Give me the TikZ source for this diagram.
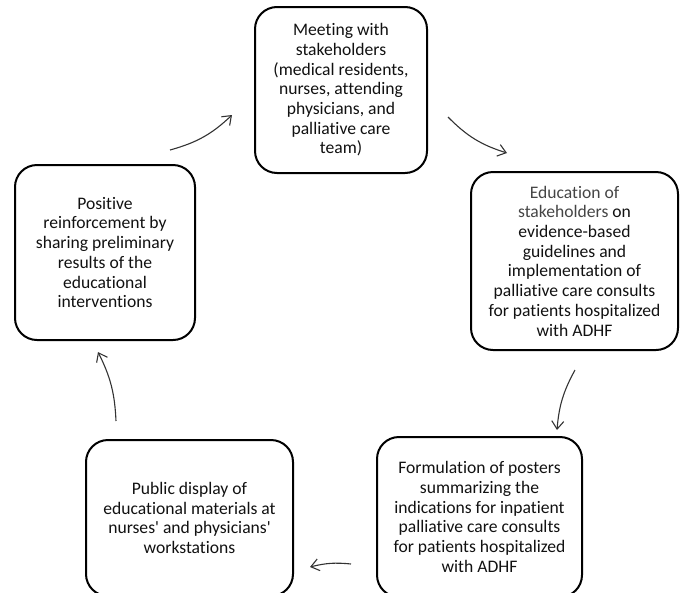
\documentclass[tikz,border=0pt]{standalone}
\usepackage{fontspec}
\setmainfont{Carlito}[Ligatures=NoCommon]
\usetikzlibrary{arrows.meta}
\definecolor{ink}{HTML}{111111}
\definecolor{softink}{HTML}{454545}
\definecolor{arrowink}{HTML}{333333}
\begin{document}
\begin{tikzpicture}[x=1pt,y=-1pt,
  stagebox/.style={draw=black, line width=2pt, rounded corners=22pt,
    align=center, text=ink, inner sep=0pt,
    font=\fontsize{17.6}{19.7}\selectfont},
  flow/.style={draw=arrowink, line width=1.1pt,
    -{Straight Barb[length=8pt,width=12pt,line width=1.1pt]}}]
\useasboundingbox (0,0) rectangle (682,592);

% the five stages of the cycle
\node[stagebox, minimum width=172pt, minimum height=166pt] (b1) at (341,90)
  {Meeting with\\ stakeholders\\ (medical residents,\\ nurses, attending\\ physicians, and\\ palliative care\\ team)};
\node[stagebox, minimum width=207pt, minimum height=178pt] (b2) at (574.5,261)
  {\textcolor{softink}{Education of}\\ \textcolor{softink}{stakeholders} on\\ evidence-based\\ guidelines and\\ implementation of\\ palliative care consults\\ for patients hospitalized\\ with ADHF};
\node[stagebox, minimum width=205pt, minimum height=160pt] (b3) at (479.5,517)
  {Formulation of posters\\ summarizing the\\ indications for inpatient\\ palliative care consults\\ for patients hospitalized\\ with ADHF};
\node[stagebox, minimum width=207pt, minimum height=156pt] (b4) at (189.5,518)
  {Public display of\\ educational materials at\\ nurses\textquotesingle{} and physicians\textquotesingle\\ workstations};
\node[stagebox, minimum width=180pt, minimum height=175pt] (b5) at (105,252.5)
  {Positive\\ reinforcement by\\ sharing preliminary\\ results of the\\ educational\\ interventions};

% end points of the arrows between stages
\coordinate (a1s) at (170,150);  \coordinate (a1e) at (232,115);
\coordinate (a2s) at (448,117);  \coordinate (a2e) at (507,153);
\coordinate (a3s) at (575,370);  \coordinate (a3e) at (557,430);
\coordinate (a4s) at (351,564);  \coordinate (a4e) at (310,567);
\coordinate (a5s) at (116,421);  \coordinate (a5e) at (98,352);

\draw[flow] (a1s) to[bend right=14] (a1e);
\draw[flow] (a2s) to[bend right=14] (a2e);
\draw[flow] (a3s) to[bend right=12] (a3e);
\draw[flow] (a4s) to[bend right=10] (a4e);
\draw[flow] (a5s) to[bend right=12] (a5e);
\end{tikzpicture}
\end{document}
